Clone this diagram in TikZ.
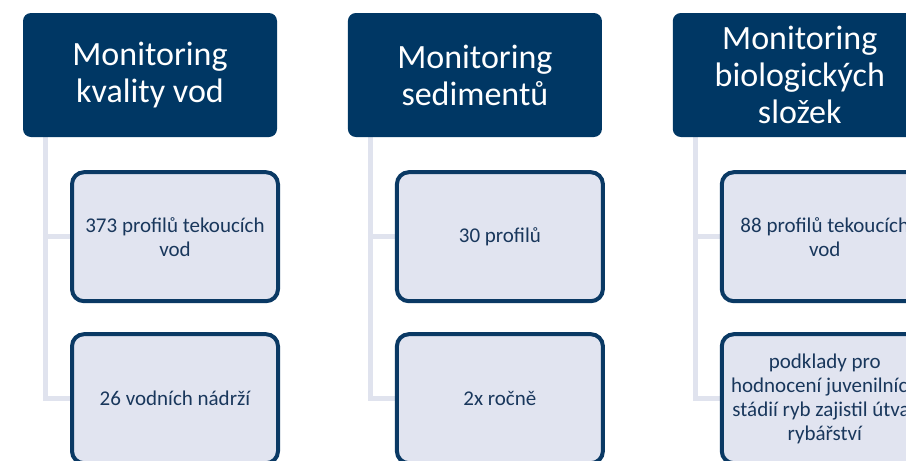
\documentclass[tikz,border=0pt]{standalone}
\usepackage{fontspec}
\setmainfont{Carlito}
\usepackage{tikz}
\usetikzlibrary{positioning, backgrounds}
\definecolor{tmava}{RGB}{0,55,100}
\definecolor{okraj}{RGB}{10,57,100}
\definecolor{svetla}{RGB}{225,228,240}
\definecolor{linka}{RGB}{224,227,238}
\definecolor{textmodra}{RGB}{25,55,92}
\tikzset{
    box_hlavni/.style={rectangle, rounded corners=8pt, fill=tmava, text=white, align=center, minimum width=254pt, minimum height=124pt, inner sep=4pt, font=\fontsize{34}{37}\selectfont},
    box_detail/.style={rectangle, rounded corners=12pt, draw=okraj, line width=4pt, fill=svetla, text=textmodra, align=center, minimum width=206pt, minimum height=129pt, inner sep=5pt, font=\fontsize{21}{24}\selectfont},
    spojnice/.style={draw=linka, line width=5pt}
}

\begin{document}
\begin{tikzpicture}[node distance=70.5pt]

    \path[use as bounding box, clip] (0,0) rectangle (906pt,-461pt);

    % 1. Hlavicky
    \node[box_hlavni] (h1) at (150pt,-75pt) {Monitoring\\kvality vod};
    \node[box_hlavni, right=of h1] (h2) {Monitoring\\sedimentů};
    \node[box_hlavni, right=of h2] (h3) {Monitoring\\biologických\\složek};

    % 2. Detaily pod hlavickami
    \node[box_detail, below=33pt of h1, xshift=25pt] (d1a) {373 profilů tekoucích\\vod};
    \node[box_detail, below=29pt of d1a] (d1b) {26 vodních nádrží};

    \node[box_detail, below=33pt of h2, xshift=25pt] (d2a) {30 profilů};
    \node[box_detail, below=29pt of d2a] (d2b) {2x ročně};

    \node[box_detail, below=33pt of h3, xshift=25pt] (d3a) {88 profilů tekoucích\\vod};
    \node[box_detail, below=29pt of d3a] (d3b) {podklady pro\\hodnocení juvenilních\\stádií ryb zajistil útvar\\rybářství};

    % --- SPOJNICE ---
    \begin{scope}[on background layer]
        \draw[spojnice] ([xshift=23pt]h1.south west) |- (d1a.west);
        \draw[spojnice] ([xshift=23pt]h1.south west) |- (d1b.west);
        \draw[spojnice] ([xshift=23pt]h2.south west) |- (d2a.west);
        \draw[spojnice] ([xshift=23pt]h2.south west) |- (d2b.west);
        \draw[spojnice] ([xshift=23pt]h3.south west) |- (d3a.west);
        \draw[spojnice] ([xshift=23pt]h3.south west) |- (d3b.west);
    \end{scope}

\end{tikzpicture}
\end{document}
